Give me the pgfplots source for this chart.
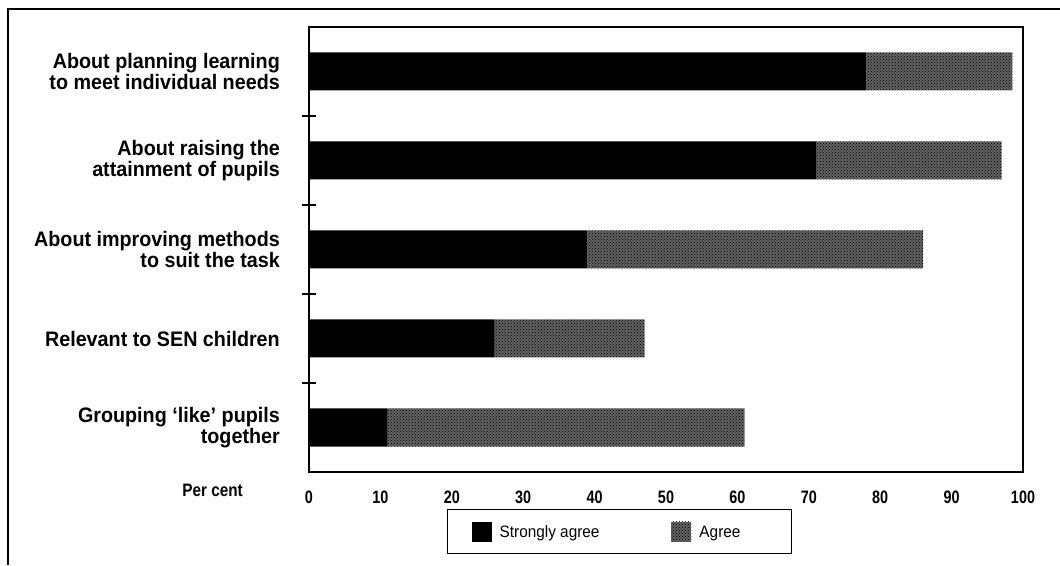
\documentclass[border=0pt]{standalone}
\usepackage{pgfplots}
\pgfplotsset{compat=1.18}
\usepackage{fontspec}
\setmainfont{Liberation Sans}
\newfontfamily\labfont[FakeStretch=0.94]{Liberation Sans}
\newfontfamily\tickfamily[FakeStretch=0.8]{Liberation Sans}
\newfontfamily\perfamily[FakeStretch=0.85]{Liberation Sans}
\newfontfamily\legfamily[FakeStretch=0.93]{Liberation Sans}
\usetikzlibrary{patterns}
\begin{document}
\begin{tikzpicture}[x=1pt,y=1pt]
\useasboundingbox (0,0) rectangle (1060,565);
\draw[line width=2pt] (8,0) -- (8,556) -- (1060,556);
\begin{axis}[
  at={(309pt,93pt)}, anchor=south west,
  scale only axis, width=714pt, height=445pt,
  xbar stacked, bar width=38pt,
  xmin=0, xmax=100, ymin=-0.5, ymax=4.5,
  axis line style={line width=1.3pt},
  xtick={0,10,...,100},
  /pgf/number format/assume math mode=true,
  xticklabel style={font=\tickfamily\bfseries\fontsize{18}{18}\selectfont, anchor=north, inner sep=0pt, yshift=-11pt},
  x tick style={draw=none},
  ytick={0.5,1.5,2.5,3.5}, yticklabels={},
  ytick pos=left,
  y tick style={line width=1.3pt, black},
  tick align=center, major tick length=15pt,
  extra y ticks={0,1,2,3,4},
  extra y tick labels={{Grouping ‘like’ pupils\\together},{Relevant to SEN children},{About improving methods\\to suit the task},{About raising the\\attainment of pupils},{About planning learning\\to meet individual needs}},
  extra y tick style={major tick length=0pt, y tick style={draw=none},
    yticklabel style={font=\labfont\bfseries\fontsize{21}{21.5}\selectfont, align=right, anchor=east, inner sep=0pt, xshift=-29pt}},
  legend style={at={(0.435,-0.083)}, anchor=north, legend columns=2, draw=black, line width=1.2pt,
    inner xsep=24pt, inner ysep=12pt, font=\legfamily\fontsize{16.5}{16.5}\selectfont,
    /tikz/every odd column/.append style={column sep=6pt},
    /tikz/every even column/.append style={column sep=70pt}},
  legend image code/.code={\fill[#1] (0pt,-9pt) rectangle (20pt,11pt);},
  clip=false,
]
\addplot[fill=black, draw=none] coordinates {(11,0) (26,1) (39,2) (71,3) (78,4)};
\addplot[fill=black!62, draw=none, postaction={pattern=crosshatch dots, pattern color=black}] coordinates {(50,0) (21,1) (47,2) (26,3) (20.5,4)};
\legend{Strongly agree, \makebox[66pt][l]{Agree}}
\node[anchor=east, font=\perfamily\bfseries\fontsize{18}{18}\selectfont, inner sep=0pt] at (rel axis cs:0,0) [xshift=-66pt, yshift=-18pt] {Per cent};
\end{axis}
\end{tikzpicture}
\end{document}
